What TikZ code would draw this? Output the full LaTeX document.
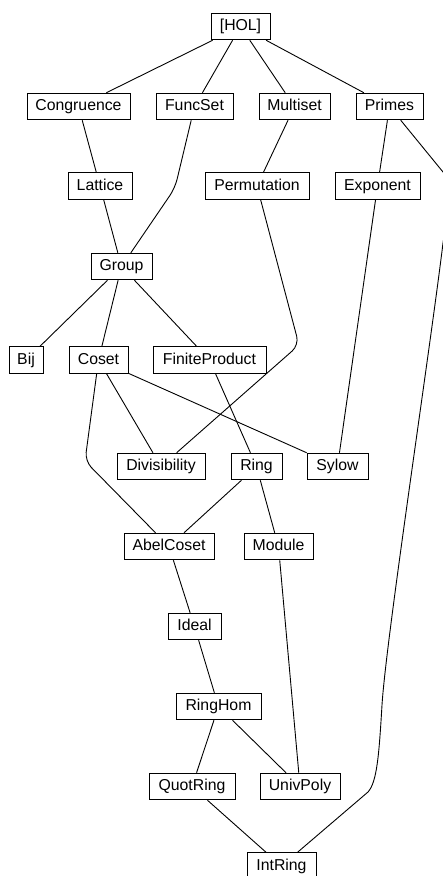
\documentclass[tikz,border=0pt]{standalone}
\usepackage{fontspec}
\setmainfont{Liberation Sans}
\begin{document}
\begin{tikzpicture}[x=1pt,y=-1pt,
  box/.style={draw,line width=1pt,rectangle,minimum height=26.5pt,inner xsep=7pt,inner ysep=0pt,
    text height=11.6pt,text depth=3.2pt,
    font=\fontsize{15.8}{18}\selectfont},
  edge/.style={line width=0.9pt},
  bentedge/.style={edge,rounded corners=9pt}]
\useasboundingbox (0,0) rectangle (443,876);
\clip (0,0) rectangle (443,876);
\node[box,minimum width=59pt] (HOL) at (240.5,26.5) {[HOL]};
\node[box,minimum width=103pt] (Congruence) at (78.5,106.5) {Congruence};
\node[box,minimum width=77pt] (FuncSet) at (194.5,106.5) {FuncSet};
\node[box,minimum width=71pt] (Multiset) at (294.5,106.5) {Multiset};
\node[box,minimum width=67pt] (Primes) at (389.5,106.5) {Primes};
\node[box,minimum width=64pt] (Lattice) at (100,186) {Lattice};
\node[box,minimum width=104pt] (Permutation) at (257,186) {Permutation};
\node[box,minimum width=85pt] (Exponent) at (377.5,186) {Exponent};
\node[box,minimum width=61pt] (Group) at (121.5,266.5) {Group};
\node[box,minimum width=34pt] (Bij) at (26,360) {Bij};
\node[box,minimum width=59pt] (Coset) at (98.5,360) {Coset};
\node[box,minimum width=113pt] (FiniteProduct) at (209.5,360) {FiniteProduct};
\node[box,minimum width=88pt] (Divisibility) at (161,466.5) {Divisibility};
\node[box,minimum width=51pt] (Ring) at (256.5,466.5) {Ring};
\node[box,minimum width=61pt] (Sylow) at (337.5,466.5) {Sylow};
\node[box,minimum width=90pt] (AbelCoset) at (169,546.5) {AbelCoset};
\node[box,minimum width=69pt] (Module) at (278.5,546.5) {Module};
\node[box,minimum width=53pt] (Ideal) at (194.5,626.5) {Ideal};
\node[box,minimum width=85pt] (RingHom) at (218.5,706.5) {RingHom};
\node[box,minimum width=86pt] (QuotRing) at (192,786.5) {QuotRing};
\node[box,minimum width=80pt] (UnivPoly) at (300,786.5) {UnivPoly};
\node[box,minimum width=69pt] (IntRing) at (281.5,866) {IntRing};
\coordinate (b1) at (175,188);
\coordinate (b2) at (299,345);
\coordinate (b3) at (85,461);
\coordinate (p1) at (443,172);
\coordinate (p2) at (443,243);
\coordinate (p3) at (382,705);
\coordinate (p4) at (368,792);
\draw[edge] (HOL) -- (Congruence);
\draw[edge] (HOL) -- (FuncSet);
\draw[edge] (HOL) -- (Multiset);
\draw[edge] (HOL) -- (Primes);
\draw[edge] (Congruence) -- (Lattice);
\draw[bentedge] (FuncSet) -- (b1) -- (Group);
\draw[edge] (Multiset) -- (Permutation);
\draw[edge] (Primes) -- (Exponent);
\draw[edge] (Primes) -- (p1) .. controls (462,193) and (447,213) .. (p2)
  .. controls (430,350) and (386,640) .. (p3)
  .. controls (379,755) and (377,782) .. (p4) -- (IntRing);
\draw[edge] (Lattice) -- (Group);
\draw[bentedge] (Permutation) -- (b2) -- (Divisibility);
\draw[edge] (Exponent) -- (Sylow);
\draw[edge] (Group) -- (Bij);
\draw[edge] (Group) -- (Coset);
\draw[edge] (Group) -- (FiniteProduct);
\draw[edge] (Coset) -- (Divisibility);
\draw[edge] (Coset) -- (Sylow);
\draw[bentedge] (Coset) -- (b3) -- (AbelCoset);
\draw[edge] (FiniteProduct) -- (Ring);
\draw[edge] (Ring) -- (AbelCoset);
\draw[edge] (Ring) -- (Module);
\draw[edge] (AbelCoset) -- (Ideal);
\draw[edge] (Ideal) -- (RingHom);
\draw[edge] (Module) -- (UnivPoly);
\draw[edge] (RingHom) -- (QuotRing);
\draw[edge] (RingHom) -- (UnivPoly);
\draw[edge] (QuotRing) -- (IntRing);
\end{tikzpicture}
\end{document}
